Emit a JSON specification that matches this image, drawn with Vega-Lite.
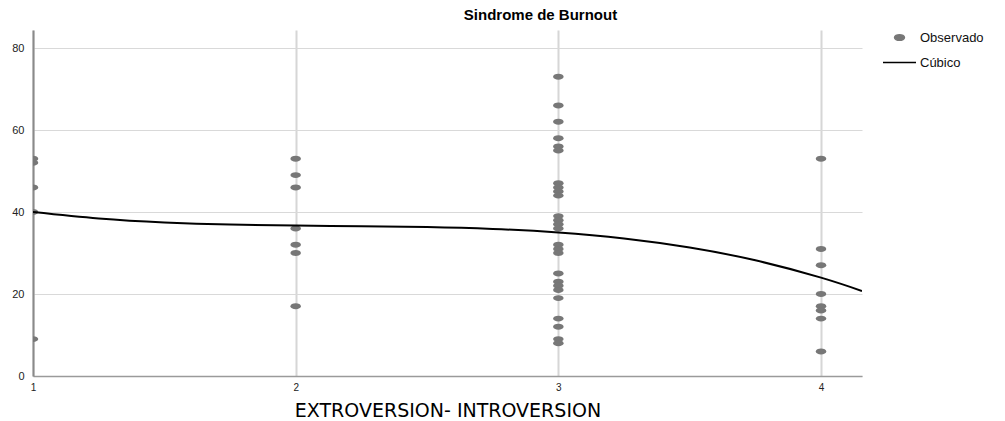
{
  "$schema": "https://vega.github.io/schema/vega-lite/v6.json",
  "width": 829,
  "height": 346,
  "autosize": {"type": "none"},
  "padding": {"left": 33, "top": 30, "right": 143, "bottom": 45},
  "background": "white",
  "title": {"text": "Sindrome de Burnout", "anchor": "middle", "dx": 93, "offset": -3, "fontSize": 15, "font": "Liberation Sans", "fontWeight": "bold", "color": "#000000"},
  "config": {
    "view": {"stroke": null},
    "axis": {"labelFont": "Liberation Sans", "labelColor": "#222222", "ticks": false, "gridColor": "#d9d9d9"}
  },
  "data": {"values": [
    {"x": 1, "y": 53, "series": "Observado"},
    {"x": 1, "y": 52, "series": "Observado"},
    {"x": 1, "y": 46, "series": "Observado"},
    {"x": 1, "y": 40, "series": "Observado"},
    {"x": 1, "y": 9, "series": "Observado"},
    {"x": 2, "y": 53, "series": "Observado"},
    {"x": 2, "y": 49, "series": "Observado"},
    {"x": 2, "y": 46, "series": "Observado"},
    {"x": 2, "y": 36, "series": "Observado"},
    {"x": 2, "y": 32, "series": "Observado"},
    {"x": 2, "y": 30, "series": "Observado"},
    {"x": 2, "y": 17, "series": "Observado"},
    {"x": 3, "y": 73, "series": "Observado"},
    {"x": 3, "y": 66, "series": "Observado"},
    {"x": 3, "y": 62, "series": "Observado"},
    {"x": 3, "y": 58, "series": "Observado"},
    {"x": 3, "y": 56, "series": "Observado"},
    {"x": 3, "y": 55, "series": "Observado"},
    {"x": 3, "y": 47, "series": "Observado"},
    {"x": 3, "y": 46, "series": "Observado"},
    {"x": 3, "y": 45, "series": "Observado"},
    {"x": 3, "y": 44, "series": "Observado"},
    {"x": 3, "y": 39, "series": "Observado"},
    {"x": 3, "y": 38, "series": "Observado"},
    {"x": 3, "y": 37, "series": "Observado"},
    {"x": 3, "y": 36, "series": "Observado"},
    {"x": 3, "y": 32, "series": "Observado"},
    {"x": 3, "y": 31, "series": "Observado"},
    {"x": 3, "y": 30, "series": "Observado"},
    {"x": 3, "y": 25, "series": "Observado"},
    {"x": 3, "y": 23, "series": "Observado"},
    {"x": 3, "y": 22, "series": "Observado"},
    {"x": 3, "y": 21, "series": "Observado"},
    {"x": 3, "y": 19, "series": "Observado"},
    {"x": 3, "y": 14, "series": "Observado"},
    {"x": 3, "y": 12, "series": "Observado"},
    {"x": 3, "y": 9, "series": "Observado"},
    {"x": 3, "y": 8, "series": "Observado"},
    {"x": 4, "y": 53, "series": "Observado"},
    {"x": 4, "y": 31, "series": "Observado"},
    {"x": 4, "y": 27, "series": "Observado"},
    {"x": 4, "y": 20, "series": "Observado"},
    {"x": 4, "y": 17, "series": "Observado"},
    {"x": 4, "y": 16, "series": "Observado"},
    {"x": 4, "y": 14, "series": "Observado"},
    {"x": 4, "y": 6, "series": "Observado"},
    {"x": 1, "y": 40, "series": "Cúbico"},
    {"x": 1.25, "y": 38.43, "series": "Cúbico"},
    {"x": 1.5, "y": 37.47, "series": "Cúbico"},
    {"x": 1.75, "y": 36.95, "series": "Cúbico"},
    {"x": 2, "y": 36.7, "series": "Cúbico"},
    {"x": 2.25, "y": 36.55, "series": "Cúbico"},
    {"x": 2.5, "y": 36.33, "series": "Cúbico"},
    {"x": 2.75, "y": 35.87, "series": "Cúbico"},
    {"x": 3, "y": 35, "series": "Cúbico"},
    {"x": 3.25, "y": 33.55, "series": "Cúbico"},
    {"x": 3.5, "y": 31.34, "series": "Cúbico"},
    {"x": 3.75, "y": 28.22, "series": "Cúbico"},
    {"x": 4, "y": 24, "series": "Cúbico"},
    {"x": 4.156, "y": 20.74, "series": "Cúbico"}
  ]},
  "encoding": {
    "x": {"field": "x", "type": "quantitative",
      "scale": {"domain": [1, 4.156], "nice": false, "zero": false},
      "axis": {"values": [1, 2, 3, 4], "format": "d", "labelFontSize": 10, "labelPadding": 6, "labelFlush": false,
        "gridWidth": 2, "gridColor": "#d6d6d6", "domainColor": "#9a9a9a", "domainWidth": 1.5,
        "title": "EXTROVERSION- INTROVERSION", "titleFont": "DejaVu Sans", "titleFontSize": 19, "titleFontWeight": "normal", "titleColor": "#000000", "titlePadding": 9}},
    "y": {"field": "y", "type": "quantitative",
      "scale": {"domain": [0, 84.4], "nice": false},
      "axis": {"values": [0, 20, 40, 60, 80], "labelFontSize": 11, "labelPadding": 9, "title": null,
        "gridWidth": 1, "domainColor": "#8a8a8a", "domainWidth": 2}}
  },
  "layer": [
    {
      "transform": [{"filter": "datum.series === 'Observado'"}],
      "mark": {"type": "point", "filled": true, "opacity": 1, "size": 1225, "clip": true},
      "encoding": {
        "color": {"field": "series", "type": "nominal",
          "scale": {"domain": ["Observado", "Cúbico"], "range": ["#777777", "#000000"]},
          "legend": {"orient": "none", "legendX": 849, "legendY": -10, "title": null, "labelFont": "Liberation Sans", "labelFontSize": 13, "labelColor": "#111111", "symbolSize": 1089, "labelOffset": 3, "rowPadding": -10,
            "encode": {"symbols": {"update": {"stroke": {"signal": "datum.value === 'Cúbico' ? '#000000' : 'transparent'"}, "strokeWidth": {"value": 2}}}}}},
        "shape": {"field": "series", "type": "nominal",
          "scale": {"domain": ["Observado", "Cúbico"], "range": ["M -0.3 0 A 0.3 0.17 0 1 0 0.3 0 A 0.3 0.17 0 1 0 -0.3 0 Z", "stroke"]},
          "legend": {"orient": "none", "legendX": 849, "legendY": -10, "title": null, "labelFont": "Liberation Sans", "labelFontSize": 13, "labelColor": "#111111", "symbolSize": 1089, "labelOffset": 3, "rowPadding": -10,
            "encode": {"symbols": {"update": {"stroke": {"signal": "datum.value === 'Cúbico' ? '#000000' : 'transparent'"}, "strokeWidth": {"value": 2}}}}}}
      }
    },
    {
      "transform": [{"filter": "datum.series === 'Cúbico'"}],
      "mark": {"type": "line", "strokeWidth": 2, "interpolate": "natural", "clip": true},
      "encoding": {
        "color": {"field": "series", "type": "nominal"}
      }
    }
  ]
}
